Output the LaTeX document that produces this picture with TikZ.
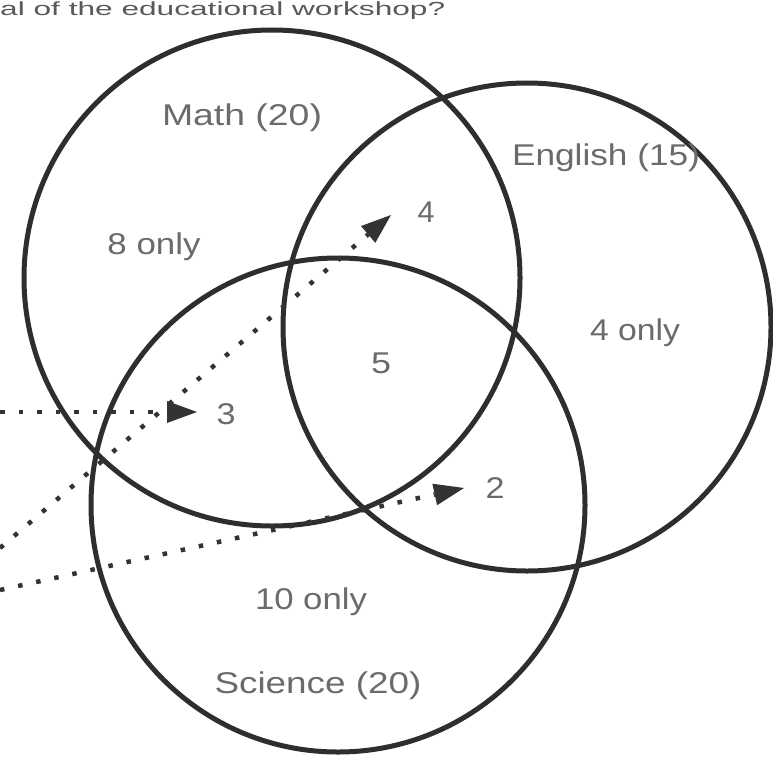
\documentclass[tikz,border=0pt]{standalone}
\usepackage{fontspec}
\setmainfont{Liberation Sans}
\usetikzlibrary{arrows.meta}
\newcommand{\lab}[2]{\resizebox{#1pt}{\height}{#2}}
\begin{document}
\begin{tikzpicture}[x=1pt,y=-1pt,
  venn/.style={draw=black!82, line width=5pt, circle, inner sep=0pt},
  lbl/.style={text=black!58, font=\fontsize{30}{36}\selectfont, inner sep=0pt},
  ptr/.style={draw=black!80, line width=4.5pt, dash pattern=on 4.5pt off 14pt,
    -{Triangle[length=30pt,width=22pt,line width=0pt]}},
]
\useasboundingbox (0,0) rectangle (773,757);
\fill[white] (0,0) rectangle (773,757);

% title (at the very top)
\node[lbl, text=black!65, font=\fontsize{19}{22}\selectfont, anchor=base west] (title) at (0,16) {\lab{445}{al of the educational workshop?}};

% circles
\node[venn, minimum size=496pt] (math) at (272,278) {};
\node[venn, minimum size=488pt] (eng) at (527,327) {};
\node[venn, minimum size=494pt] (sci) at (338,505) {};

% labels
\node[lbl] (lmath) at (242,118) {\lab{160}{Math (20)}};
\node[lbl] (leng) at (606,158) {\lab{188}{English (15)}};
\node[lbl] (l8) at (154,247) {\lab{93}{8 only}};
\node[lbl] (l4) at (426,212) {\lab{17}{4}};
\node[lbl] (l4o) at (635,333) {\lab{90}{4 only}};
\node[lbl] (l5) at (381,363) {\lab{20}{5}};
\node[lbl] (l3) at (226,414) {\lab{19}{3}};
\node[lbl] (l2) at (495,488) {\lab{19}{2}};
\node[lbl] (l10) at (311,602) {\lab{112}{10 only}};
\node[lbl] (lsci) at (318,686) {\lab{207}{Science (20)}};

% dotted pointers
\coordinate (s3) at (0,412);
\coordinate (t3) at (197,412);
\coordinate (s4) at (0,548);
\coordinate (t4) at (391,215);
\coordinate (s2) at (0,590);
\coordinate (t2) at (464,488);
\draw[ptr] (s3) -- (t3);
\draw[ptr] (s4) -- (t4);
\draw[ptr] (s2) -- (t2);
\end{tikzpicture}
\end{document}
